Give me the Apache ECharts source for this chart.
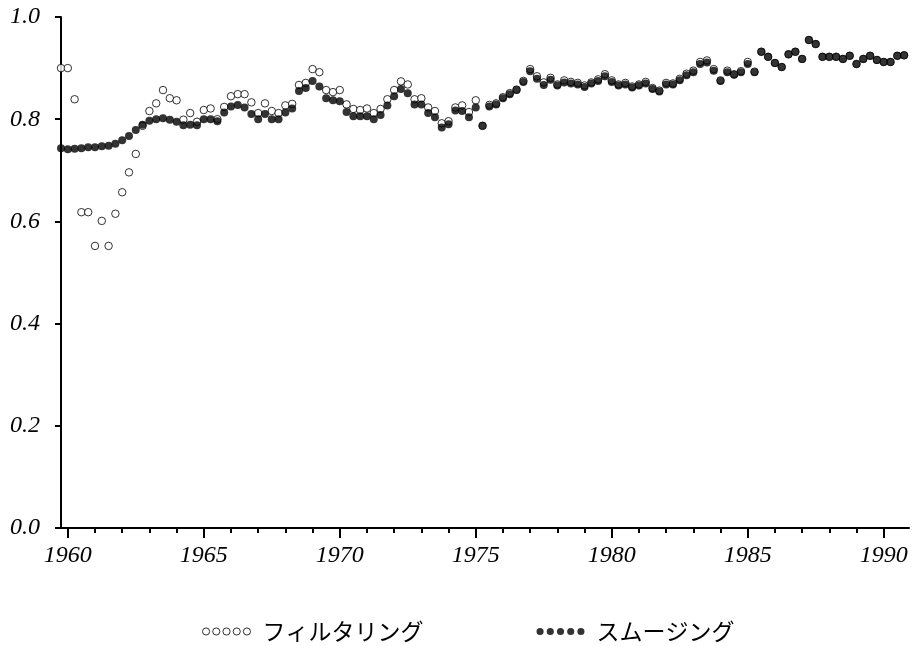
<!DOCTYPE html>
<html>
<head>
<meta charset="utf-8">
<title>フィルタリングとスムージング</title>
<script src="https://cdn.jsdelivr.net/npm/echarts@6/dist/echarts.min.js"></script>
<style>
  html, body { margin: 0; padding: 0; background: #fff; }
  #chart { width: 915px; height: 646px; }
</style>
</head>
<body>
<div id="chart"></div>
<script>
// Quarterly estimates, 1959 Q4 through 1990 Q4
const firstYear = 1959;
const firstQuarter = 4;
const quarterCount = 125;

// Filtered estimates
const filtering = [
  0.900, 0.900, 0.839, 0.618, 0.618, 0.552, 0.601, 0.552, 0.615, 0.657,
  0.696, 0.732, 0.787, 0.816, 0.831, 0.857, 0.841, 0.837, 0.799, 0.812,
  0.795, 0.818, 0.821, 0.800, 0.824, 0.845, 0.849, 0.849, 0.833, 0.812,
  0.831, 0.816, 0.812, 0.827, 0.830, 0.867, 0.871, 0.898, 0.892, 0.857,
  0.853, 0.857, 0.829, 0.820, 0.818, 0.821, 0.812, 0.820, 0.839, 0.857,
  0.874, 0.868, 0.839, 0.841, 0.823, 0.816, 0.792, 0.796, 0.823, 0.827,
  0.814, 0.837, 0.787, 0.828, 0.831, 0.843, 0.851, 0.858, 0.875, 0.898,
  0.884, 0.872, 0.881, 0.868, 0.876, 0.873, 0.871, 0.866, 0.872, 0.878,
  0.888, 0.876, 0.868, 0.871, 0.864, 0.868, 0.873, 0.861, 0.856, 0.871,
  0.870, 0.879, 0.889, 0.895, 0.912, 0.915, 0.898, 0.876, 0.895, 0.888,
  0.894, 0.912, 0.893, 0.932, 0.922, 0.910, 0.902, 0.927, 0.932, 0.918,
  0.955, 0.947, 0.922, 0.922, 0.922, 0.918, 0.924, 0.908, 0.918, 0.924,
  0.916, 0.912, 0.912, 0.924, 0.925
];

// Smoothed estimates
const smoothing = [
  0.743, 0.741, 0.742, 0.743, 0.745, 0.745, 0.747, 0.748, 0.752, 0.759,
  0.767, 0.779, 0.789, 0.797, 0.800, 0.802, 0.799, 0.795, 0.788, 0.789,
  0.788, 0.800, 0.800, 0.796, 0.813, 0.825, 0.828, 0.823, 0.810, 0.800,
  0.810, 0.800, 0.800, 0.813, 0.821, 0.855, 0.861, 0.875, 0.864, 0.841,
  0.837, 0.835, 0.814, 0.806, 0.806, 0.806, 0.800, 0.808, 0.827, 0.845,
  0.859, 0.851, 0.829, 0.829, 0.812, 0.804, 0.784, 0.790, 0.817, 0.816,
  0.804, 0.823, 0.787, 0.825, 0.829, 0.841, 0.849, 0.857, 0.873, 0.894,
  0.879, 0.867, 0.877, 0.866, 0.872, 0.870, 0.868, 0.863, 0.870, 0.875,
  0.884, 0.873, 0.866, 0.868, 0.862, 0.866, 0.870, 0.859, 0.854, 0.868,
  0.868, 0.876, 0.886, 0.892, 0.908, 0.911, 0.895, 0.875, 0.892, 0.887,
  0.892, 0.908, 0.892, 0.932, 0.922, 0.910, 0.902, 0.927, 0.932, 0.918,
  0.955, 0.947, 0.922, 0.922, 0.922, 0.918, 0.924, 0.908, 0.918, 0.924,
  0.916, 0.912, 0.912, 0.924, 0.925
];

// Axis tick labels
const majorYears = [1960, 1965, 1970, 1975, 1980, 1985, 1990];
const minorYears = [
  1961, 1962, 1963, 1964, 1966, 1967, 1968, 1969, 1971, 1972, 1973, 1974,
  1976, 1977, 1978, 1979, 1981, 1982, 1983, 1984, 1986, 1987, 1988, 1989
];
const yTicks = [0, 0.2, 0.4, 0.6, 0.8, 1.0];

const seriesNames = ['フィルタリング', 'スムージング'];

// Time of each quarter as a fractional year (Q1 -> .00, Q4 -> .75)
const quarterTimes = [];
for (let k = 0; k < quarterCount; k++) {
  const q = firstQuarter - 1 + k;
  quarterTimes.push(firstYear + Math.floor(q / 4) + (q % 4) / 4);
}
const pairs = values => values.map((v, k) => [quarterTimes[k], v]);

// Legend icon: a row of five small circles
const dotsIcon = 'path://' + [4, 14, 24, 34, 44].map(cx =>
  `M${cx - 3.5} 4a3.5 3.5 0 1 0 7 0a3.5 3.5 0 1 0 -7 0Z`).join('');

const labelFont = {
  fontFamily: '"Liberation Serif", serif',
  fontStyle: 'italic',
  fontSize: 24,
  color: '#000'
};

const xMin = 1959.75;
const xMax = 1990.93;

const chart = echarts.init(document.getElementById('chart'), null, { renderer: 'canvas' });
chart.setOption({
  animation: false,
  backgroundColor: '#fff',
  grid: { left: 61, right: 6, top: 17, bottom: 118, containLabel: false },
  xAxis: [
    {
      type: 'value',
      min: xMin,
      max: xMax,
      position: 'bottom',
      axisLine: { show: true, onZero: false, lineStyle: { color: '#000', width: 2 } },
      axisTick: { show: true, customValues: majorYears, length: 10, lineStyle: { color: '#000', width: 2 } },
      axisLabel: Object.assign({ customValues: majorYears, margin: 16, formatter: v => String(v) }, labelFont),
      splitLine: { show: false }
    },
    {
      type: 'value',
      min: xMin,
      max: xMax,
      position: 'bottom',
      axisLine: { show: false, onZero: false },
      axisTick: { show: true, customValues: minorYears, length: 5, lineStyle: { color: '#000', width: 2 } },
      axisLabel: { show: false },
      splitLine: { show: false }
    }
  ],
  yAxis: {
    type: 'value',
    min: 0,
    max: 1,
    axisLine: { show: true, lineStyle: { color: '#000', width: 2 } },
    axisTick: { show: true, customValues: yTicks, length: 6, lineStyle: { color: '#000', width: 2 } },
    axisLabel: Object.assign({ customValues: yTicks, margin: 21, formatter: v => v.toFixed(1) }, labelFont),
    splitLine: { show: false }
  },
  legend: {
    left: 197,
    top: 615,
    itemGap: 113,
    itemWidth: 48,
    itemHeight: 8,
    textStyle: {
      fontFamily: '"Noto Sans CJK JP", sans-serif',
      fontSize: 23,
      color: '#000',
      padding: [0, 0, 0, 7]
    },
    data: [
      { name: seriesNames[0], icon: dotsIcon, itemStyle: { color: '#fff', borderColor: '#000', borderWidth: 1 } },
      { name: seriesNames[1], icon: dotsIcon, itemStyle: { color: '#000', borderWidth: 0 } }
    ]
  },
  series: [
    {
      name: seriesNames[0],
      type: 'scatter',
      symbol: 'circle',
      symbolSize: 7.5,
      itemStyle: { color: '#fff', borderColor: '#000', borderWidth: 1 },
      data: pairs(filtering),
      z: 2
    },
    {
      name: seriesNames[1],
      type: 'scatter',
      symbol: 'circle',
      symbolSize: 8,
      itemStyle: { color: '#000' },
      data: pairs(smoothing),
      z: 3
    }
  ]
});
</script>
</body>
</html>
